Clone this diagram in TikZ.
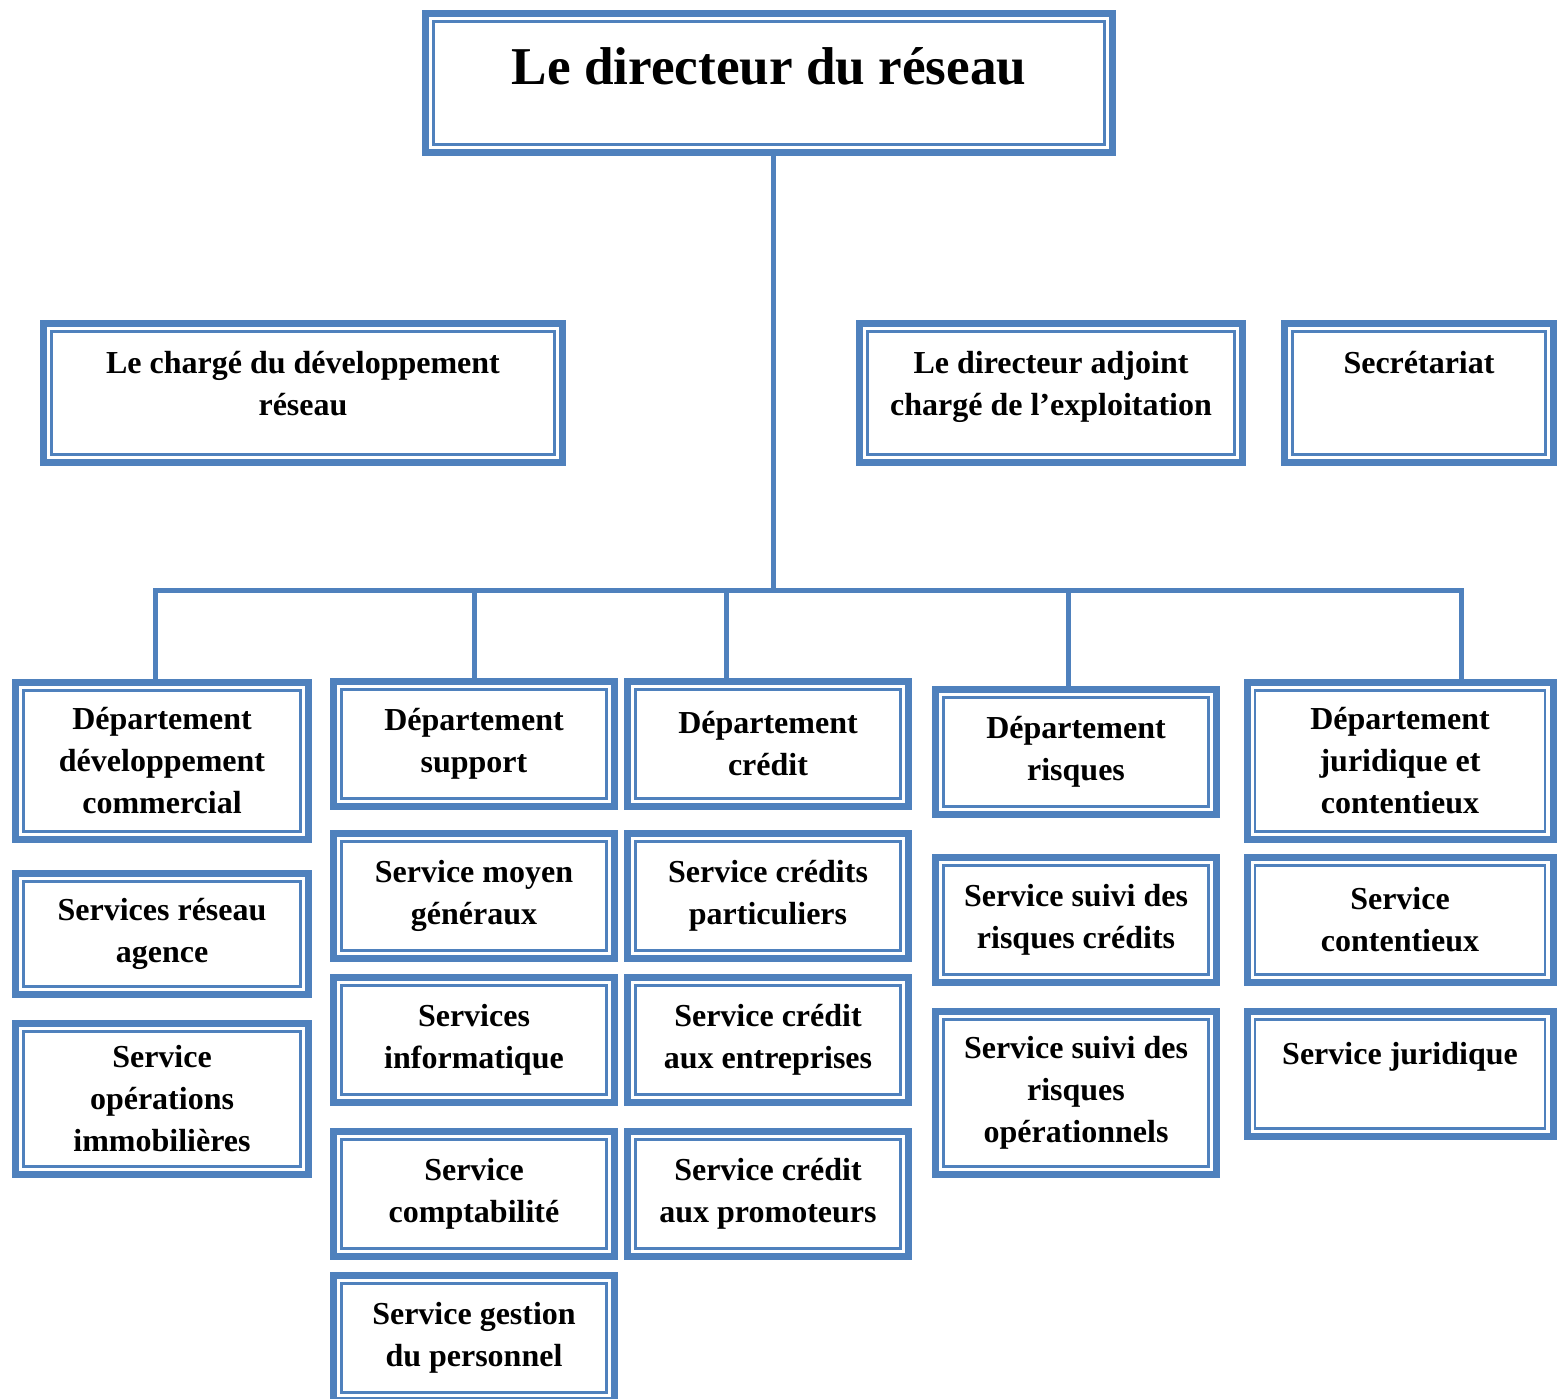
\documentclass[tikz,border=0pt]{standalone}
\usepackage{fontspec}
\setmainfont{Liberation Serif}
\definecolor{orgblue}{RGB}{79,129,189}

\begin{document}
\begin{tikzpicture}[x=0.5pt,y=-0.5pt,
    box/.style={draw=orgblue, line width=3.5pt, fill=white, inner sep=0pt, outer sep=0pt,
        align=center, font=\fontsize{16}{21}\selectfont\bfseries,
        path picture={\draw[orgblue, line width=1.25pt]
                ([shift={(3.9pt,3.9pt)}]path picture bounding box.south west) rectangle
                ([shift={(-3.9pt,-3.9pt)}]path picture bounding box.north east);}},
    colA/.style={box, minimum width=146.5pt},
    colB/.style={box, minimum width=140.5pt},
    colE/.style={box, minimum width=153pt},
    link/.style={draw=orgblue, line width=2.5pt}]
            \useasboundingbox (0,0) rectangle (1558,1398);

            \coordinate (trunk) at (773,590);
            \coordinate (b1) at (155,590);
            \coordinate (b2) at (474,590);
            \coordinate (b3) at (726,590);
            \coordinate (b4) at (1068,590);
            \coordinate (b5) at (1461,590);

            \node[box, minimum width=343.5pt, minimum height=69.5pt,
                font=\fontsize{26.6}{31}\selectfont\bfseries] (dir) at (769,83)
                {Le directeur du réseau\\[-14pt]\mbox{}};

            \node[box, minimum width=259.5pt, minimum height=69.5pt] (charge) at (303,393)
                {Le chargé du développement\\réseau\\[-11pt]\mbox{}};
            \node[box, minimum width=191.5pt, minimum height=69.5pt] (adjoint) at (1051,393)
                {Le directeur adjoint\\chargé de l’exploitation\\[-11pt]\mbox{}};
            \node[box, minimum width=134.5pt, minimum height=69.5pt] (secr) at (1419,393)
                {Secrétariat\\[10pt]\mbox{}};

            \node[colA, minimum height=78.5pt] (dep1) at (162,761) {Département\\développement\\commercial};
            \node[colB, minimum height=62.5pt] (dep2) at (474,744) {Département\\support};
            \node[colB, minimum height=62.5pt] (dep3) at (768,744) {Département\\crédit};
            \node[colB, minimum height=62.5pt] (dep4) at (1076,752) {Département\\risques};
            \node[colE, minimum height=78.5pt] (dep5) at (1400,761) {Département\\juridique et\\contentieux};

            \node[colA, minimum height=60.5pt] (reseau) at (162,934) {Services réseau\\agence};
            \node[colA, minimum height=75.5pt] (immo) at (162,1099) {Service\\opérations\\immobilières};

            \node[colB, minimum height=62.5pt] (moyens) at (474,896) {Service moyen\\généraux};
            \node[colB, minimum height=62.5pt] (info) at (474,1040) {Services\\informatique};
            \node[colB, minimum height=62.5pt] (compta) at (474,1194) {Service\\comptabilité};
            \node[colB, minimum height=62.5pt] (perso) at (474,1338) {Service gestion\\du personnel};

            \node[colB, minimum height=62.5pt] (partic) at (768,896) {Service crédits\\particuliers};
            \node[colB, minimum height=62.5pt] (entrep) at (768,1040) {Service crédit\\aux entreprises};
            \node[colB, minimum height=62.5pt] (promo) at (768,1194) {Service crédit\\aux promoteurs};

            \node[colB, minimum height=62.5pt] (rcred) at (1076,920) {Service suivi des\\risques crédits};
            \node[colB, minimum height=81.5pt] (rop) at (1076,1093) {Service suivi des\\risques\\opérationnels};

            \node[colE, minimum height=62.5pt] (content) at (1400,920) {Service\\contentieux};
            \node[colE, minimum height=62.5pt] (jurid) at (1400,1074) {Service juridique\\\mbox{}};

            \draw[link] (trunk |- dir.south) -- (trunk);
            \draw[link] (b1 |- dep1.north) -- (b1) -- (b5) -- (b5 |- dep5.north);
            \draw[link] (b2) -- (b2 |- dep2.north);
            \draw[link] (b3) -- (b3 |- dep3.north);
            \draw[link] (b4) -- (b4 |- dep4.north);
        \end{tikzpicture}
\end{document}
